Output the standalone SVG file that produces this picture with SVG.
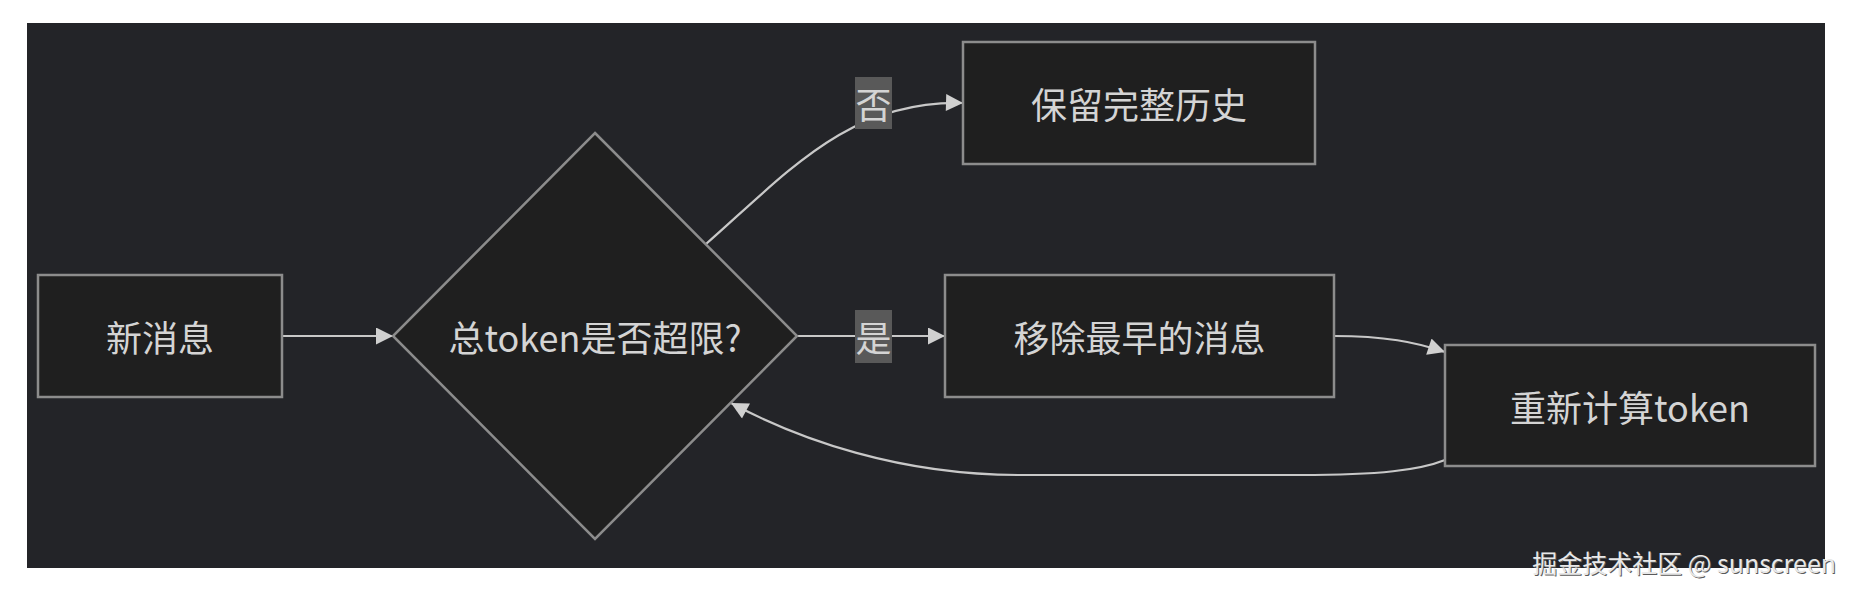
<svg xmlns="http://www.w3.org/2000/svg" width="1856" height="597" viewBox="0 0 1856 597">
<style>
.node{fill:#1f1f1f;stroke:#8c8c8c;stroke-width:2.5}
.t{font-family:"Noto Sans CJK SC","Noto Sans",sans-serif;font-size:36px;fill:#d4d4d4;text-anchor:middle;dominant-baseline:central}
.edge{fill:none;stroke:#c8c8c8;stroke-width:2.2}
.lbl{fill:#595959}
.wm{font-family:"Noto Sans CJK SC","Noto Sans",sans-serif;font-size:25px;text-anchor:end}
</style>
<defs>
<marker id="arr" viewBox="0 0 10 10" refX="10" refY="5" markerUnits="userSpaceOnUse" markerWidth="19" markerHeight="17" orient="auto">
<path d="M0,0 L10,5 L0,10 z" fill="#d0d0d0"/>
</marker>
</defs>
<rect x="0" y="0" width="1856" height="597" fill="#ffffff"/>
<rect x="27" y="23" width="1798" height="545" fill="#232428"/>
<g id="connectors">
<path class="edge" d="M282,336 L393,336" marker-end="url(#arr)"/>
<path class="edge" d="M706,244 C790,170 850,100 963,103" marker-end="url(#arr)"/>
<path class="edge" d="M797,336 L945,336" marker-end="url(#arr)"/>
<path class="edge" d="M1334,336 C1385,336 1415,342 1445,352" marker-end="url(#arr)"/>
<path class="edge" d="M1445,460 C1420,470 1380,475 1300,475 L1020,475 C900,475 800,440 731,403" marker-end="url(#arr)"/>
<g id="label-no"><rect class="lbl" x="855" y="77" width="37" height="52"/><text class="t" x="873.5" y="103">否</text></g>
<g id="label-yes"><rect class="lbl" x="855" y="310" width="37" height="53"/><text class="t" x="873.5" y="336">是</text></g>
</g>
<g id="n-new"><rect class="node" x="38" y="275" width="244" height="122"/><text class="t" x="160" y="336">新消息</text></g>
<g id="n-check"><polygon class="node" points="595,133 797,336 595,539 393,336"/><text class="t" x="595" y="336">总token是否超限?</text></g>
<g id="n-keep"><rect class="node" x="963" y="42" width="352" height="122"/><text class="t" x="1139" y="103">保留完整历史</text></g>
<g id="n-remove"><rect class="node" x="945" y="275" width="389" height="122"/><text class="t" x="1139.5" y="336">移除最早的消息</text></g>
<g id="n-recount"><rect class="node" x="1445" y="345" width="370" height="121"/><text class="t" x="1630" y="406">重新计算token</text></g>
<g id="watermark">
<text class="wm" x="1837" y="574" fill="#5a5a5a">掘金技术社区 @ sunscreen</text>
<text class="wm" x="1836" y="573" fill="#e8e8e8">掘金技术社区 @ sunscreen</text>
</g>
</svg>
